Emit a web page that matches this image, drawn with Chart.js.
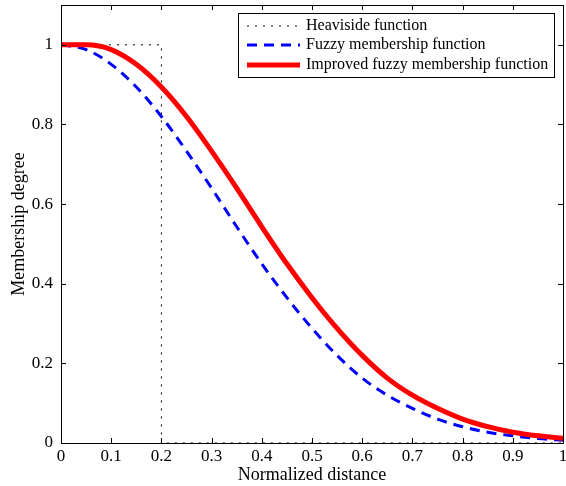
<!DOCTYPE html>
<html>
<head>
<meta charset="utf-8">
<script src="https://cdn.jsdelivr.net/npm/chart.js@4"></script>
<style>
  html, body { margin: 0; padding: 0; background: #fff; }
  #wrap { width: 566px; height: 486px; }
</style>
</head>
<body>
<div id="wrap"><canvas id="memberChart" width="566" height="486"></canvas></div>
<script>
// distances (x) and membership values
const distance = [0, 0.05, 0.1, 0.15, 0.2, 0.25, 0.3, 0.35, 0.4, 0.45, 0.5,
  0.55, 0.6, 0.65, 0.7, 0.75, 0.8, 0.85, 0.9, 0.95, 1];
const fuzzyValues = [1, 0.988, 0.951, 0.894, 0.82, 0.733, 0.64, 0.543, 0.45, 0.365, 0.288,
  0.22, 0.163, 0.12, 0.087, 0.06, 0.041, 0.027, 0.018, 0.011, 0.007];
const improvedValues = [1, 1, 0.988, 0.951, 0.894, 0.82, 0.733, 0.64, 0.543, 0.45, 0.365,
  0.288, 0.22, 0.163, 0.12, 0.087, 0.06, 0.041, 0.027, 0.018, 0.012];
const heavisideX = [0, 0.2, 0.2, 1];
const heavisideY = [1, 1, 0, 0];

const xTicks = [0, 0.1, 0.2, 0.3, 0.4, 0.5, 0.6, 0.7, 0.8, 0.9, 1];
const yTicks = [0, 0.2, 0.4, 0.6, 0.8, 1];

const serif = '"Liberation Serif", "Times New Roman", serif';

function toPoints(xs, ys) {
  return xs.map((x, i) => ({ x: x, y: ys[i] }));
}

// no extra room for half tick labels, keep plot box where it is
function noPad(scale) {
  scale.paddingTop = 0;
  scale.paddingBottom = 0;
  scale.paddingLeft = 0;
  scale.paddingRight = 0;
}

// box around the plot + inward ticks on all four sides (matlab look)
const boxPlugin = {
  id: "boxTicks",
  afterDraw(chart) {
    const ctx = chart.ctx;
    const a = chart.chartArea;
    const xs = chart.scales.x;
    const ys = chart.scales.y;
    const len = 5;
    ctx.save();
    ctx.strokeStyle = "#000";
    ctx.lineWidth = 1;
    ctx.strokeRect(a.left + 0.5, a.top + 0.5, a.right - a.left, a.bottom - a.top);
    ctx.beginPath();
    xTicks.forEach((v) => {
      const px = Math.round(xs.getPixelForValue(v)) + 0.5;
      ctx.moveTo(px, a.bottom);
      ctx.lineTo(px, a.bottom - len);
      ctx.moveTo(px, a.top);
      ctx.lineTo(px, a.top + len);
    });
    yTicks.forEach((v) => {
      const py = Math.round(ys.getPixelForValue(v)) + 0.5;
      ctx.moveTo(a.left, py);
      ctx.lineTo(a.left + len, py);
      ctx.moveTo(a.right, py);
      ctx.lineTo(a.right - len, py);
    });
    ctx.stroke();
    ctx.restore();
  },
};

// legend box drawn inside the plot, top right
const legendPlugin = {
  id: "insideLegend",
  afterDraw(chart) {
    const ctx = chart.ctx;
    const box = { left: 238, top: 13, right: 554, bottom: 77 };
    const rows = [26, 45, 65];
    ctx.save();
    ctx.fillStyle = "#fff";
    ctx.fillRect(box.left, box.top, box.right - box.left, box.bottom - box.top);
    ctx.strokeStyle = "#000";
    ctx.lineWidth = 1;
    ctx.strokeRect(box.left + 0.5, box.top + 0.5, box.right - box.left, box.bottom - box.top);
    chart.data.datasets.forEach((ds, i) => {
      const y = rows[i];
      ctx.beginPath();
      ctx.strokeStyle = ds.borderColor;
      ctx.lineWidth = ds.borderWidth;
      ctx.setLineDash(ds.borderDash || []);
      ctx.moveTo(247, y);
      ctx.lineTo(300, y);
      ctx.stroke();
      ctx.setLineDash([]);
      ctx.fillStyle = "#000";
      ctx.font = "16px " + serif;
      ctx.textBaseline = "middle";
      ctx.fillText(ds.label, 306, y);
    });
    ctx.restore();
  },
};

const ctx = document.getElementById("memberChart").getContext("2d");
new Chart(ctx, {
  type: "line",
  data: {
    datasets: [
      {
        label: "Heaviside function",
        data: toPoints(heavisideX, heavisideY),
        borderColor: "#000",
        borderWidth: 1,
        borderDash: [2, 6],
        pointRadius: 0,
        tension: 0,
        order: 3,
      },
      {
        label: "Fuzzy membership function",
        data: toPoints(distance, fuzzyValues),
        borderColor: "#0000ff",
        borderWidth: 3,
        borderDash: [10, 7],
        pointRadius: 0,
        cubicInterpolationMode: "monotone",
        order: 2,
      },
      {
        label: "Improved fuzzy membership function",
        data: toPoints(distance, improvedValues),
        borderColor: "#ff0000",
        borderWidth: 5,
        pointRadius: 0,
        cubicInterpolationMode: "monotone",
        order: 1,
      },
    ],
  },
  options: {
    responsive: false,
    animation: false,
    layout: {
      autoPadding: false,
      padding: { left: 0, right: 3, top: 5, bottom: 0 },
    },
    plugins: {
      legend: { display: false },
      tooltip: { enabled: false },
    },
    scales: {
      x: {
        type: "linear",
        min: 0,
        max: 1,
        afterFit: (scale) => { scale.height = 43; noPad(scale); },
        afterBuildTicks: (scale) => { scale.ticks = xTicks.map((v) => ({ value: v })); },
        grid: { display: false, drawTicks: false },
        border: { display: false },
        ticks: {
          color: "#000",
          padding: 3,
          maxRotation: 0,
          font: { family: serif, size: 17 },
          callback: (v) => String(Math.round(v * 10) / 10),
        },
        title: {
          display: true,
          text: "Normalized distance",
          color: "#000",
          font: { family: serif, size: 18 },
          padding: { top: 0, bottom: 0 },
        },
      },
      y: {
        type: "linear",
        min: 0,
        max: 1.1,
        afterFit: (scale) => { scale.width = 61; noPad(scale); },
        afterBuildTicks: (scale) => { scale.ticks = yTicks.map((v) => ({ value: v })); },
        grid: { display: false, drawTicks: false },
        border: { display: false },
        ticks: {
          color: "#000",
          padding: 8,
          font: { family: serif, size: 17 },
          callback: (v) => String(Math.round(v * 10) / 10),
        },
        title: {
          display: true,
          text: "Membership degree",
          color: "#000",
          font: { family: serif, size: 18 },
          padding: { top: 8, bottom: 0 },
        },
      },
    },
  },
  plugins: [boxPlugin, legendPlugin],
});
</script>
</body>
</html>
